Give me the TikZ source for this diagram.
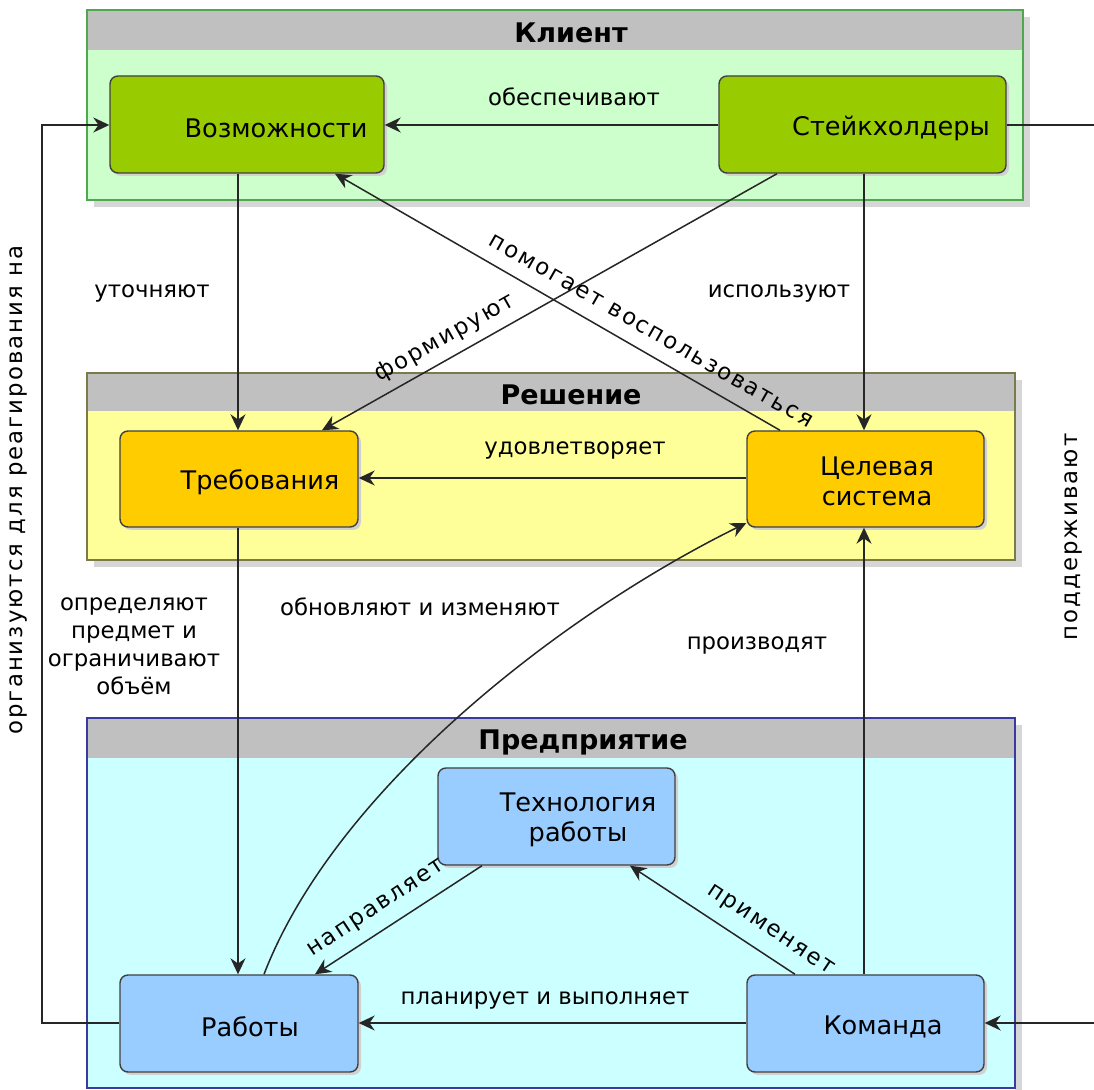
\documentclass[tikz,border=0pt]{standalone}
\usepackage{fontspec}
\setmainfont{DejaVu Sans}
\usetikzlibrary{arrows.meta,calc,fit}

\definecolor{clientbg}{HTML}{CCFFCC}
\definecolor{clientline}{HTML}{4FA84F}
\definecolor{clientbox}{HTML}{99CC00}
\definecolor{solbg}{HTML}{FFFF99}
\definecolor{solline}{HTML}{7A7A4A}
\definecolor{solbox}{HTML}{FFCC00}
\definecolor{entbg}{HTML}{CCFFFF}
\definecolor{entline}{HTML}{3A3AA0}
\definecolor{entbox}{HTML}{99CCFF}
\definecolor{headgray}{HTML}{C0C0C0}
\definecolor{shade}{RGB}{214,214,214}

\tikzset{
  panel/.style={draw=#1, line width=0.8pt, inner sep=0pt},
  headtext/.style={font=\fontsize{13.5pt}{16pt}\selectfont\bfseries, inner sep=0pt},
  box/.style={draw=black!75, fill=#1, line width=0.7pt, rounded corners=4pt, inner sep=0pt},
  boxtext/.style={font=\fontsize{12.8pt}{15pt}\selectfont, align=center, inner sep=0pt},
  lbl/.style={font=\fontsize{11.4pt}{14pt}\selectfont, align=center, inner sep=0pt},
  slbl/.style={font=\fontsize{11.4pt}{14pt}\selectfont\addfontfeatures{LetterSpace=9}, inner sep=0pt},
  conn/.style={draw=black!85, line width=0.75pt},
  arr/.style={conn, -{Stealth[length=8pt, width=7.5pt, inset=2.6pt]}},
  panelshadow/.style={fill=shade, draw=none},
}

\begin{document}
\begin{tikzpicture}[x=0.5pt, y=-0.5pt]
\useasboundingbox (0,0) rectangle (1094,1090);
\fill[white] (0,0) rectangle (1094,1090);

% ---- panel shadows (right strip and bottom strip)
\fill[panelshadow] (1023,17) rectangle (1030,207);
\fill[panelshadow] (94,200) rectangle (1030,207);
\fill[panelshadow] (1015,380) rectangle (1022,567);
\fill[panelshadow] (94,560) rectangle (1022,567);
\fill[panelshadow] (1015,725) rectangle (1022,1090);

% ---- Client panel
\node[panel=clientline, fill=clientbg, fit={(87,10) (1023,200)}] (client) {};
\fill[headgray] (87.8,10.8) rectangle (1022.2,50);
\node[headtext] (clientT) at (571,33) {Клиент};

% ---- Solution panel
\node[panel=solline, fill=solbg, fit={(87,373) (1015,560)}] (solution) {};
\fill[headgray] (87.8,373.8) rectangle (1014.2,411);
\node[headtext] (solutionT) at (571,395) {Решение};

% ---- Enterprise panel
\node[panel=entline, fill=entbg, fit={(87,718) (1015,1088)}] (enterprise) {};
\fill[headgray] (87.8,718.8) rectangle (1014.2,758);
\node[headtext] (enterpriseT) at (583,742) {Предприятие};

% ---- box shadows
\foreach \a/\b/\c/\d in {110/76/384/173, 719/76/1006/173, 120/431/358/527, 747/431/984/527,
                         438/768/675/865, 120/975/358/1072, 747/975/984/1072}
  \fill[black!18, rounded corners=4pt] (\a+3,\b+3) rectangle (\c+3,\d+3);

% ---- boxes
\node[box=clientbox, fit={(110,76) (384,173)}] (cap) {};
\node[boxtext] (capT) at (276,128) {Возможности};
\node[box=clientbox, fit={(719,76) (1006,173)}] (stake) {};
\node[boxtext] (stakeT) at (891,128) {Стейкхолдеры};

\node[box=solbox, fit={(120,431) (358,527)}] (req) {};
\node[boxtext] (reqT) at (260,482) {Требования};
\node[box=solbox, fit={(747,431) (984,527)}] (sys) {};
\node[boxtext] (sysT) at (877,481) {Целевая\\система};

\node[box=entbox, fit={(438,768) (675,865)}] (tech) {};
\node[boxtext] (techT) at (578,820) {Технология\\работы};
\node[box=entbox, fit={(120,975) (358,1072)}] (work) {};
\node[boxtext] (workT) at (250,1027) {Работы};
\node[box=entbox, fit={(747,975) (984,1072)}] (team) {};
\node[boxtext] (teamT) at (883,1027) {Команда};

% ---- free ends at the picture edges
\coordinate (leftTop) at (42,125);
\coordinate (leftBot) at (42,1023);
\coordinate (rightTop) at (1094,125);
\coordinate (rightBot) at (1094,1023);

% ---- connectors
\draw[arr] (stake.west |- 0,125) -- (cap.east |- 0,125);
\draw[arr] (cap.south -| 238,0) -- (req.north -| 238,0);
\draw[arr] (stake.south -| 777,0) -- (req.north -| 322,0);
\draw[arr] (sys.north -| 780,0) -- (cap.south -| 335,0);
\draw[arr] (stake.south -| 864,0) -- (sys.north -| 864,0);
\draw[arr] (sys.west |- 0,478) -- (req.east |- 0,478);
\draw[arr] (req.south -| 238,0) -- (work.north -| 238,0);
\draw[arr] (work.north -| 264,0) .. controls (335,790) and (560,615) .. (sys.south west |- 0,523);
\draw[arr] (team.north -| 864,0) -- (sys.south -| 864,0);
\draw[arr] (tech.south -| 482,0) -- (work.north -| 315,0);
\draw[arr] (team.north -| 795,0) -- (tech.south -| 630,0);
\draw[arr] (team.west |- 0,1023) -- (work.east |- 0,1023);
\draw[arr] (work.west |- 0,1023) -- (leftBot) -- (leftTop) -- (cap.west |- 0,125);
\draw[conn] (stake.east |- 0,125) -- (rightTop);
\draw[arr] (rightBot) -- (team.east |- 0,1023);

% ---- connector labels
\node[lbl] (l1) at (574,97) {обеспечивают};
\node[lbl] (l2) at (152,293) {уточняют};
\node[lbl] (l3) at (779,293) {используют};
\node[slbl, rotate=29.5] (l4) at (445,338) {формируют};
\node[slbl, rotate=-29.8] (l5) at (651,331) {помогает воспользоваться};
\node[lbl] (l6) at (575,450) {удовлетворяет};
\node[lbl] (l7) at (134,646) {определяют\\предмет и\\ограничивают\\объём};
\node[lbl] (l8) at (420,607) {обновляют и изменяют};
\node[lbl] (l9) at (757,645) {производят};
\node[slbl, rotate=33.5] (l10) at (377,909) {направляет};
\node[slbl, rotate=-33.7] (l11) at (770,931) {применяет};
\node[lbl] (l12) at (545,1000) {планирует и выполняет};
\node[slbl, rotate=90] (l13) at (18,490) {организуются для реагирования на};
\node[slbl, rotate=90] (l14) at (1073,537) {поддерживают};
\end{tikzpicture}
\end{document}
